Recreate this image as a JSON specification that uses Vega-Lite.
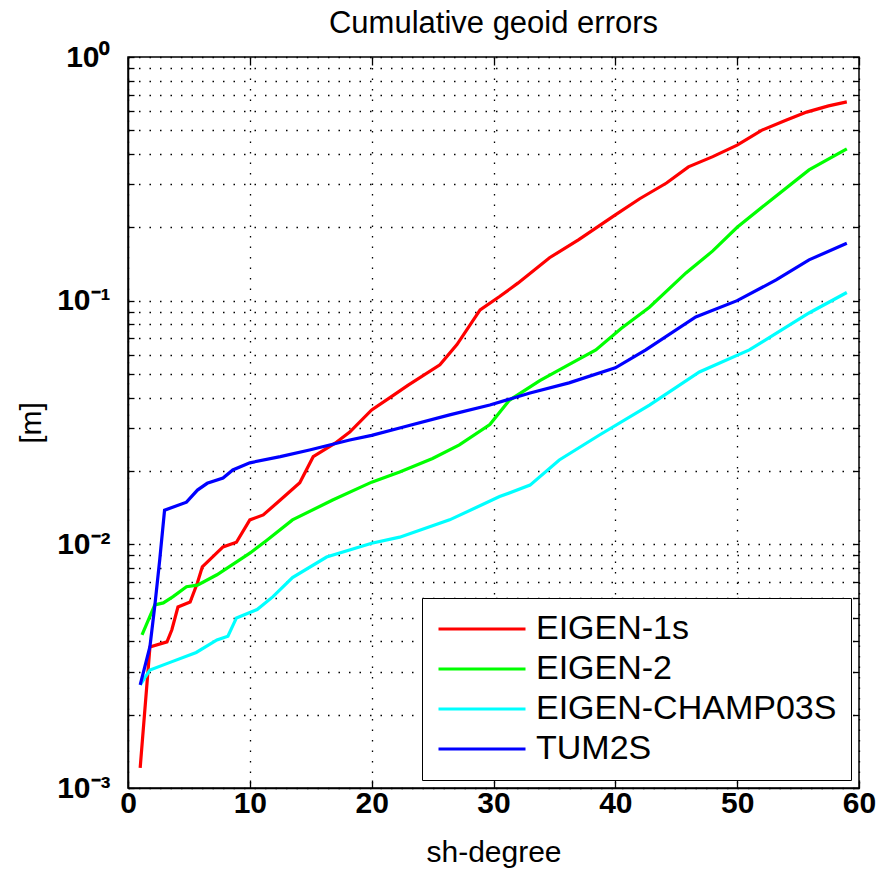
{
  "$schema": "https://vega.github.io/schema/vega-lite/v6.json",
  "width": 731,
  "height": 731,
  "autosize": {"type": "none"},
  "padding": {"left": 128, "top": 57, "right": 32, "bottom": 81},
  "background": "white",
  "config": {
    "view": {"stroke": "black", "strokeWidth": 1.5},
    "font": "Liberation Sans",
    "axis": {
      "domainColor": "black",
      "domainWidth": 1.5,
      "tickColor": "black",
      "tickWidth": 1.3,
      "labelColor": "black",
      "titleColor": "black",
      "gridColor": "black",
      "gridDash": [1.5, 9],
      "gridWidth": 1.3,
      "gridOpacity": 1,
      "labelFlush": false
    }
  },
  "title": {
    "text": "Cumulative geoid errors",
    "fontSize": 31,
    "fontWeight": "normal",
    "font": "Liberation Sans",
    "color": "black",
    "anchor": "middle",
    "offset": 2
  },
  "data": {
    "values": [
      {"deg": 1, "val": 0.00121, "model": "EIGEN-1s"},
      {"deg": 1.8, "val": 0.00379, "model": "EIGEN-1s"},
      {"deg": 3.2, "val": 0.00398, "model": "EIGEN-1s"},
      {"deg": 3.6, "val": 0.00446, "model": "EIGEN-1s"},
      {"deg": 4.1, "val": 0.00553, "model": "EIGEN-1s"},
      {"deg": 5.1, "val": 0.0058, "model": "EIGEN-1s"},
      {"deg": 5.7, "val": 0.00695, "model": "EIGEN-1s"},
      {"deg": 6.1, "val": 0.00808, "model": "EIGEN-1s"},
      {"deg": 7.8, "val": 0.00976, "model": "EIGEN-1s"},
      {"deg": 8.9, "val": 0.0102, "model": "EIGEN-1s"},
      {"deg": 10, "val": 0.0126, "model": "EIGEN-1s"},
      {"deg": 11.1, "val": 0.0132, "model": "EIGEN-1s"},
      {"deg": 12.5, "val": 0.0152, "model": "EIGEN-1s"},
      {"deg": 14.1, "val": 0.0179, "model": "EIGEN-1s"},
      {"deg": 15.2, "val": 0.0229, "model": "EIGEN-1s"},
      {"deg": 17, "val": 0.026, "model": "EIGEN-1s"},
      {"deg": 18.2, "val": 0.0289, "model": "EIGEN-1s"},
      {"deg": 20, "val": 0.0356, "model": "EIGEN-1s"},
      {"deg": 21.5, "val": 0.04, "model": "EIGEN-1s"},
      {"deg": 23, "val": 0.045, "model": "EIGEN-1s"},
      {"deg": 25.6, "val": 0.0545, "model": "EIGEN-1s"},
      {"deg": 27, "val": 0.066, "model": "EIGEN-1s"},
      {"deg": 28.9, "val": 0.0916, "model": "EIGEN-1s"},
      {"deg": 30.5, "val": 0.104, "model": "EIGEN-1s"},
      {"deg": 32, "val": 0.118, "model": "EIGEN-1s"},
      {"deg": 34.6, "val": 0.15, "model": "EIGEN-1s"},
      {"deg": 37, "val": 0.178, "model": "EIGEN-1s"},
      {"deg": 40, "val": 0.225, "model": "EIGEN-1s"},
      {"deg": 42, "val": 0.262, "model": "EIGEN-1s"},
      {"deg": 44.2, "val": 0.304, "model": "EIGEN-1s"},
      {"deg": 46, "val": 0.354, "model": "EIGEN-1s"},
      {"deg": 48, "val": 0.39, "model": "EIGEN-1s"},
      {"deg": 50, "val": 0.435, "model": "EIGEN-1s"},
      {"deg": 52, "val": 0.5, "model": "EIGEN-1s"},
      {"deg": 54, "val": 0.55, "model": "EIGEN-1s"},
      {"deg": 55.7, "val": 0.594, "model": "EIGEN-1s"},
      {"deg": 57.5, "val": 0.63, "model": "EIGEN-1s"},
      {"deg": 59, "val": 0.654, "model": "EIGEN-1s"},

      {"deg": 1.15, "val": 0.00425, "model": "EIGEN-2"},
      {"deg": 2.2, "val": 0.00564, "model": "EIGEN-2"},
      {"deg": 2.9, "val": 0.00575, "model": "EIGEN-2"},
      {"deg": 3.7, "val": 0.0061, "model": "EIGEN-2"},
      {"deg": 4.8, "val": 0.0067, "model": "EIGEN-2"},
      {"deg": 5.7, "val": 0.0068, "model": "EIGEN-2"},
      {"deg": 7.3, "val": 0.0075, "model": "EIGEN-2"},
      {"deg": 10, "val": 0.0092, "model": "EIGEN-2"},
      {"deg": 11.4, "val": 0.0104, "model": "EIGEN-2"},
      {"deg": 13.5, "val": 0.0126, "model": "EIGEN-2"},
      {"deg": 16.8, "val": 0.0152, "model": "EIGEN-2"},
      {"deg": 20, "val": 0.018, "model": "EIGEN-2"},
      {"deg": 22.3, "val": 0.0198, "model": "EIGEN-2"},
      {"deg": 25, "val": 0.0225, "model": "EIGEN-2"},
      {"deg": 27.2, "val": 0.0256, "model": "EIGEN-2"},
      {"deg": 29.7, "val": 0.031, "model": "EIGEN-2"},
      {"deg": 31.3, "val": 0.039, "model": "EIGEN-2"},
      {"deg": 33.8, "val": 0.047, "model": "EIGEN-2"},
      {"deg": 36, "val": 0.054, "model": "EIGEN-2"},
      {"deg": 38.4, "val": 0.0628, "model": "EIGEN-2"},
      {"deg": 40.5, "val": 0.077, "model": "EIGEN-2"},
      {"deg": 42.8, "val": 0.094, "model": "EIGEN-2"},
      {"deg": 45.8, "val": 0.13, "model": "EIGEN-2"},
      {"deg": 48, "val": 0.16, "model": "EIGEN-2"},
      {"deg": 50, "val": 0.2, "model": "EIGEN-2"},
      {"deg": 52.4, "val": 0.25, "model": "EIGEN-2"},
      {"deg": 55.9, "val": 0.344, "model": "EIGEN-2"},
      {"deg": 59, "val": 0.42, "model": "EIGEN-2"},

      {"deg": 1, "val": 0.00265, "model": "EIGEN-CHAMP03S"},
      {"deg": 1.8, "val": 0.00305, "model": "EIGEN-CHAMP03S"},
      {"deg": 3.4, "val": 0.00327, "model": "EIGEN-CHAMP03S"},
      {"deg": 5.6, "val": 0.0036, "model": "EIGEN-CHAMP03S"},
      {"deg": 7.3, "val": 0.00405, "model": "EIGEN-CHAMP03S"},
      {"deg": 8.2, "val": 0.0042, "model": "EIGEN-CHAMP03S"},
      {"deg": 8.9, "val": 0.00499, "model": "EIGEN-CHAMP03S"},
      {"deg": 10.6, "val": 0.0054, "model": "EIGEN-CHAMP03S"},
      {"deg": 11.9, "val": 0.0061, "model": "EIGEN-CHAMP03S"},
      {"deg": 13.5, "val": 0.0073, "model": "EIGEN-CHAMP03S"},
      {"deg": 16.3, "val": 0.00887, "model": "EIGEN-CHAMP03S"},
      {"deg": 20, "val": 0.0101, "model": "EIGEN-CHAMP03S"},
      {"deg": 22.3, "val": 0.0107, "model": "EIGEN-CHAMP03S"},
      {"deg": 26.4, "val": 0.0126, "model": "EIGEN-CHAMP03S"},
      {"deg": 30.5, "val": 0.0157, "model": "EIGEN-CHAMP03S"},
      {"deg": 33, "val": 0.0175, "model": "EIGEN-CHAMP03S"},
      {"deg": 35.4, "val": 0.0222, "model": "EIGEN-CHAMP03S"},
      {"deg": 38.7, "val": 0.0281, "model": "EIGEN-CHAMP03S"},
      {"deg": 42.8, "val": 0.0373, "model": "EIGEN-CHAMP03S"},
      {"deg": 46.9, "val": 0.051, "model": "EIGEN-CHAMP03S"},
      {"deg": 51, "val": 0.0628, "model": "EIGEN-CHAMP03S"},
      {"deg": 55.9, "val": 0.089, "model": "EIGEN-CHAMP03S"},
      {"deg": 59, "val": 0.108, "model": "EIGEN-CHAMP03S"},

      {"deg": 1, "val": 0.00265, "model": "TUM2S"},
      {"deg": 1.8, "val": 0.0038, "model": "TUM2S"},
      {"deg": 2.2, "val": 0.0056, "model": "TUM2S"},
      {"deg": 2.6, "val": 0.0086, "model": "TUM2S"},
      {"deg": 3, "val": 0.0138, "model": "TUM2S"},
      {"deg": 4.8, "val": 0.0149, "model": "TUM2S"},
      {"deg": 5.7, "val": 0.0167, "model": "TUM2S"},
      {"deg": 6.5, "val": 0.0178, "model": "TUM2S"},
      {"deg": 7.8, "val": 0.0187, "model": "TUM2S"},
      {"deg": 8.6, "val": 0.0202, "model": "TUM2S"},
      {"deg": 10, "val": 0.0216, "model": "TUM2S"},
      {"deg": 12.5, "val": 0.0229, "model": "TUM2S"},
      {"deg": 14.9, "val": 0.0244, "model": "TUM2S"},
      {"deg": 18.2, "val": 0.0268, "model": "TUM2S"},
      {"deg": 20, "val": 0.028, "model": "TUM2S"},
      {"deg": 22.3, "val": 0.03, "model": "TUM2S"},
      {"deg": 26.4, "val": 0.034, "model": "TUM2S"},
      {"deg": 29.7, "val": 0.0373, "model": "TUM2S"},
      {"deg": 33, "val": 0.0418, "model": "TUM2S"},
      {"deg": 36.2, "val": 0.046, "model": "TUM2S"},
      {"deg": 40, "val": 0.053, "model": "TUM2S"},
      {"deg": 42.5, "val": 0.0628, "model": "TUM2S"},
      {"deg": 46.6, "val": 0.0857, "model": "TUM2S"},
      {"deg": 50, "val": 0.1, "model": "TUM2S"},
      {"deg": 53.2, "val": 0.1216, "model": "TUM2S"},
      {"deg": 55.9, "val": 0.147, "model": "TUM2S"},
      {"deg": 59, "val": 0.172, "model": "TUM2S"}
    ]
  },
  "layer": [
    {
      "mark": {"type": "line", "strokeWidth": 3.2, "clip": true},
      "encoding": {
        "x": {
          "field": "deg", "type": "quantitative",
          "scale": {"domain": [0, 60], "nice": false, "zero": false},
          "axis": {
            "orient": "bottom",
            "values": [0, 10, 20, 30, 40, 50, 60],
            "title": "sh-degree",
            "titleFontSize": 30,
            "titleFontWeight": "normal",
            "titlePadding": 19,
            "labelFontSize": 30,
            "labelFontWeight": "bold",
            "labelPadding": 8,
            "tickSize": -8,
            "grid": true
          }
        },
        "y": {
          "field": "val", "type": "quantitative",
          "scale": {"type": "log", "domain": [0.001, 1], "nice": false},
          "axis": {
            "orient": "left",
            "values": [0.001, 0.002, 0.003, 0.004, 0.005, 0.006, 0.007, 0.008, 0.009, 0.01, 0.02, 0.03, 0.04, 0.05, 0.06, 0.07, 0.08, 0.09, 0.1, 0.2, 0.3, 0.4, 0.5, 0.6, 0.7, 0.8, 0.9, 1],
            "labelExpr": "datum.value == 1 ? '10⁰' : datum.value == 0.1 ? '10⁻¹' : datum.value == 0.01 ? '10⁻²' : datum.value == 0.001 ? '10⁻³' : ''",
            "title": "[m]",
            "titleFontSize": 30,
            "titleFontWeight": "normal",
            "titlePadding": 10,
            "labelFontSize": 30,
            "labelFontWeight": "bold",
            "labelPadding": 24,
            "labelOverlap": false,
            "tickSize": -6,
            "grid": true
          }
        },
        "color": {
          "field": "model", "type": "nominal",
          "scale": {
            "domain": ["EIGEN-1s", "EIGEN-2", "EIGEN-CHAMP03S", "TUM2S"],
            "range": ["#ff0000", "#00ff00", "#00ffff", "#0000ff"]
          },
          "legend": {
            "title": null,
            "orient": "bottom-right",
            "offset": 8,
            "fillColor": "white",
            "strokeColor": "black",
            "padding": 14,
            "symbolType": "M-1,0H5",
            "symbolSize": 841,
            "symbolStrokeWidth": 3.2,
            "labelFontSize": 34,
            "labelColor": "black",
            "labelFont": "Liberation Sans",
            "labelOffset": 66,
            "rowPadding": 6,
            "labelLimit": 400
          }
        }
      }
    },
    {
      "mark": {"type": "line", "opacity": 0},
      "encoding": {
        "x": {
          "field": "deg", "type": "quantitative",
          "axis": {"orient": "top", "values": [0, 10, 20, 30, 40, 50, 60], "labels": false, "title": null, "grid": false, "tickSize": -8, "domain": false}
        },
        "y": {
          "field": "val", "type": "quantitative",
          "axis": {"orient": "right", "values": [0.001, 0.002, 0.003, 0.004, 0.005, 0.006, 0.007, 0.008, 0.009, 0.01, 0.02, 0.03, 0.04, 0.05, 0.06, 0.07, 0.08, 0.09, 0.1, 0.2, 0.3, 0.4, 0.5, 0.6, 0.7, 0.8, 0.9, 1], "labels": false, "title": null, "grid": false, "tickSize": -6, "domain": false}
        },
        "detail": {"field": "model", "type": "nominal"}
      }
    }
  ],
  "resolve": {"axis": {"x": "independent", "y": "independent"}}
}
